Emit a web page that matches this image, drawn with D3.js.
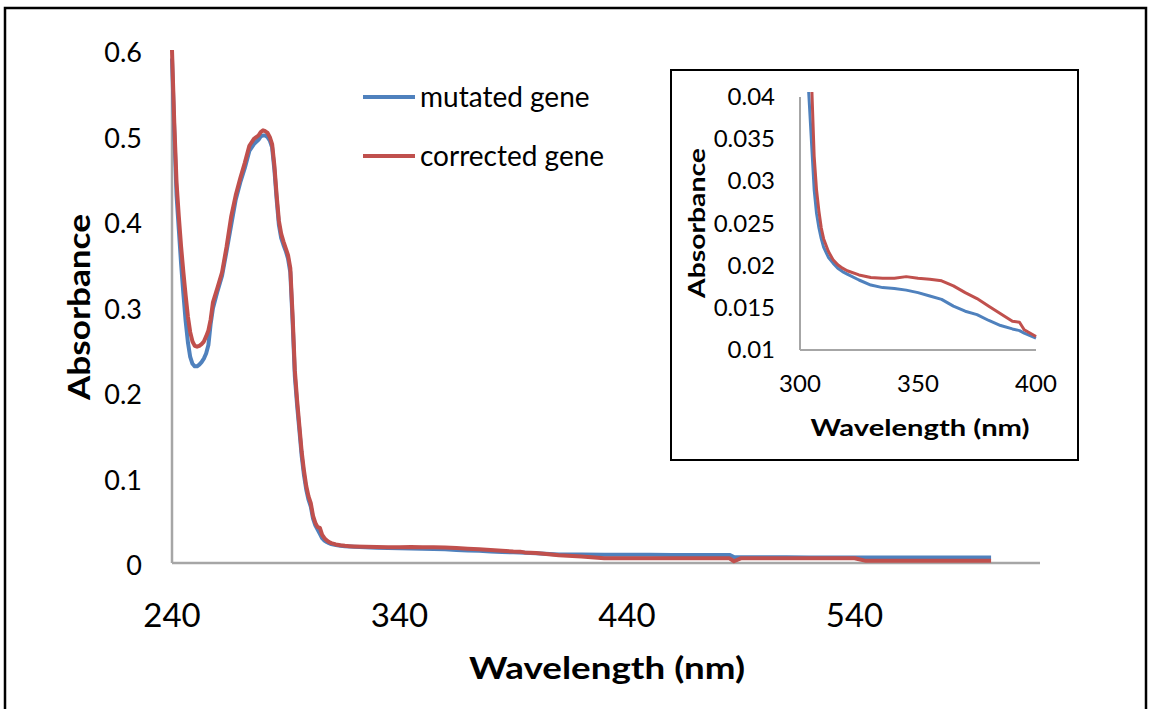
<!DOCTYPE html>
<html>

<head>
  <meta charset="utf8">
  <script src="https://d3js.org/d3.v7.min.js"></script>
  <style>
    body { margin: 0; background: white; }
    text { font-family: Lato, "Open Sans", sans-serif; fill: black; }
    .tick-label { font-size: 27px; }
    .inset-tick { font-size: 24px; }
    .title { font-weight: bold; text-anchor: middle; }
  </style>
</head>

<body>
  <svg id="chart" width="1150" height="709"></svg>
  <script>
    // wavelength (nm) shared by both series
    var wavelengths = [240, 241, 242, 243, 244, 245, 246, 247, 248, 249,
      250, 251, 252, 253, 254, 255, 256, 257, 258, 260,
      262, 264, 266, 268, 270, 272, 274, 276, 278, 279,
      280, 281, 282, 283, 284, 285, 286, 287, 288, 289,
      290, 291, 292, 293, 294, 295, 296, 297, 298, 299,
      300, 301, 302, 303, 304, 305, 306, 307, 308, 309,
      310, 312, 314, 316, 318, 320, 325, 330, 335, 340,
      345, 350, 355, 360, 365, 370, 375, 380, 385, 390,
      393, 395, 400, 410, 420, 430, 440, 450, 460, 470,
      480, 485, 487, 490, 500, 510, 520, 530, 540, 545,
      550, 560, 570, 580, 590, 600];

    var mutated = [0.590, 0.505, 0.430, 0.390, 0.350, 0.315, 0.283, 0.258, 0.241, 0.233,
      0.230, 0.230, 0.232, 0.235, 0.239, 0.245, 0.255, 0.280, 0.298, 0.318,
      0.336, 0.365, 0.395, 0.425, 0.445, 0.462, 0.482, 0.490, 0.495, 0.499,
      0.500, 0.500, 0.498, 0.494, 0.486, 0.460, 0.425, 0.395, 0.380, 0.372,
      0.365, 0.356, 0.340, 0.283, 0.218, 0.184, 0.155, 0.125, 0.103, 0.086,
      0.074, 0.066, 0.052, 0.044, 0.039, 0.034, 0.029, 0.0262, 0.0245, 0.0232,
      0.0222, 0.0210, 0.0203, 0.0197, 0.0193, 0.0190, 0.0183, 0.0177, 0.0174, 0.0173,
      0.0171, 0.0168, 0.0164, 0.0160, 0.0152, 0.0146, 0.0142, 0.0135, 0.0129, 0.0125,
      0.0123, 0.0120, 0.0114, 0.0100, 0.0098, 0.0097, 0.0096, 0.0096, 0.0095, 0.0095,
      0.0095, 0.0095, 0.0070, 0.0068, 0.0066, 0.0066, 0.0065, 0.0065, 0.0065, 0.0065,
      0.0065, 0.0065, 0.0065, 0.0065, 0.0065, 0.0065];

    var corrected = [0.600, 0.515, 0.445, 0.405, 0.370, 0.340, 0.313, 0.288, 0.270, 0.259,
      0.254, 0.253, 0.254, 0.256, 0.259, 0.265, 0.272, 0.285, 0.305, 0.322,
      0.340, 0.370, 0.405, 0.430, 0.450, 0.468, 0.488, 0.496, 0.500, 0.504,
      0.506, 0.505, 0.503, 0.498, 0.490, 0.465, 0.430, 0.400, 0.385, 0.376,
      0.368, 0.360, 0.345, 0.290, 0.225, 0.190, 0.160, 0.130, 0.108, 0.090,
      0.078, 0.070, 0.055, 0.047, 0.042, 0.041, 0.033, 0.029, 0.0265, 0.0245,
      0.0232, 0.0217, 0.0207, 0.0201, 0.0197, 0.0194, 0.0189, 0.0186, 0.0185, 0.0185,
      0.0187, 0.0185, 0.0184, 0.0182, 0.0176, 0.0168, 0.0161, 0.0152, 0.0143, 0.0134,
      0.0133, 0.0124, 0.0116, 0.0090, 0.0075, 0.0056, 0.0055, 0.0055, 0.0055, 0.0055,
      0.0055, 0.0055, 0.0020, 0.0055, 0.0055, 0.0055, 0.0055, 0.0055, 0.0055, 0.0025,
      0.0025, 0.0025, 0.0025, 0.0025, 0.0025, 0.0025];

    var seriesNames = ['mutated gene', 'corrected gene'];
    var xTicks = [240, 340, 440, 540];
    var yTicks = [0, 0.1, 0.2, 0.3, 0.4, 0.5, 0.6];
    var insetXTicks = [300, 350, 400];
    var insetYTicks = [0.01, 0.015, 0.02, 0.025, 0.03, 0.035, 0.04];

    var colors = ['#4f81bd', '#c0504d'];
    var axisColor = '#a6a6a6';

    var series = [mutated, corrected].map(function (vals, i) {
      return {
        name: seriesNames[i],
        values: vals.map(function (v, j) { return { x: wavelengths[j], y: v }; })
      };
    });

    var chart = d3.select('#chart');

    // outer frame
    chart.append('rect')
      .attr('x', 5).attr('y', 8)
      .attr('width', 1141).attr('height', 720)
      .attr('fill', 'white')
      .attr('stroke', 'black')
      .attr('stroke-width', 2.5);

    // ---- main chart ----
    var x = d3.scaleLinear().domain([240, 621.5]).range([172, 1040]);
    var y = d3.scaleLinear().domain([0, 0.6]).range([563, 50]);

    chart.append('line')
      .attr('x1', x.range()[0]).attr('x2', x.range()[1])
      .attr('y1', y(0)).attr('y2', y(0))
      .attr('stroke', axisColor).attr('stroke-width', 2.5);
    chart.append('line')
      .attr('x1', x(240)).attr('x2', x(240))
      .attr('y1', y(0.6)).attr('y2', y(0))
      .attr('stroke', axisColor).attr('stroke-width', 2.5);

    chart.selectAll('.xlab')
      .data(xTicks)
      .enter()
      .append('text')
      .attr('x', (d) => x(d))
      .attr('y', 627)
      .attr('font-size', 33)
      .attr('text-anchor', 'middle')
      .text((d) => d);

    chart.selectAll('.ylab')
      .data(yTicks)
      .enter()
      .append('text')
      .attr('class', 'tick-label')
      .attr('x', 142)
      .attr('y', (d) => y(d) + 12)
      .attr('text-anchor', 'end')
      .text((d) => d3.format('~g')(d));

    var line = d3.line()
      .x((d) => x(d.x))
      .y((d) => y(d.y));

    chart.selectAll('.main-line')
      .data(series)
      .enter()
      .append('path')
      .attr('fill', 'none')
      .attr('stroke', (d, i) => colors[i])
      .attr('stroke-width', 4)
      .attr('stroke-linejoin', 'round')
      .attr('d', (d) => line(d.values));

    chart.append('text')
      .attr('class', 'title')
      .attr('transform', 'translate(90,307) rotate(-90)')
      .attr('font-size', 30)
      .attr('textLength', 186)
      .attr('lengthAdjust', 'spacingAndGlyphs')
      .text('Absorbance');

    chart.append('text')
      .attr('class', 'title')
      .attr('x', 607).attr('y', 679)
      .attr('font-size', 30)
      .attr('textLength', 276)
      .attr('lengthAdjust', 'spacingAndGlyphs')
      .text('Wavelength (nm)');

    // legend
    var legend = chart.selectAll('.legend')
      .data(seriesNames)
      .enter()
      .append('g')
      .attr('transform', (d, i) => 'translate(363,' + (97 + i * 59) + ')');
    legend.append('line')
      .attr('x1', 0).attr('x2', 52)
      .attr('stroke', (d, i) => colors[i])
      .attr('stroke-width', 4);
    legend.append('text')
      .attr('x', 57).attr('y', 10)
      .attr('font-size', 28)
      .text((d) => d);

    // ---- inset ----
    chart.append('rect')
      .attr('x', 671).attr('y', 70)
      .attr('width', 407).attr('height', 390)
      .attr('fill', 'white')
      .attr('stroke', 'black')
      .attr('stroke-width', 2);

    var ix = d3.scaleLinear().domain([300, 400]).range([800, 1036]);
    var iy = d3.scaleLinear().domain([0.01, 0.04]).range([350, 97]);

    chart.append('clipPath')
      .attr('id', 'inset-clip')
      .append('rect')
      .attr('x', 800).attr('y', 92)
      .attr('width', 238).attr('height', 260);

    chart.append('line')
      .attr('x1', 800).attr('x2', 1036)
      .attr('y1', iy(0.01)).attr('y2', iy(0.01))
      .attr('stroke', axisColor).attr('stroke-width', 2);
    chart.append('line')
      .attr('x1', 800).attr('x2', 800)
      .attr('y1', iy(0.04)).attr('y2', iy(0.01))
      .attr('stroke', axisColor).attr('stroke-width', 2);

    chart.selectAll('.ixlab')
      .data(insetXTicks)
      .enter()
      .append('text')
      .attr('class', 'inset-tick')
      .attr('x', (d) => ix(d))
      .attr('y', 392)
      .attr('text-anchor', 'middle')
      .text((d) => d);

    chart.selectAll('.iylab')
      .data(insetYTicks)
      .enter()
      .append('text')
      .attr('class', 'inset-tick')
      .attr('x', 775)
      .attr('y', (d) => iy(d) + 8)
      .attr('text-anchor', 'end')
      .text((d) => d3.format('~g')(d));

    var iline = d3.line()
      .x((d) => ix(d.x))
      .y((d) => iy(d.y));

    chart.append('g')
      .attr('clip-path', 'url(#inset-clip)')
      .selectAll('path')
      .data(series)
      .enter()
      .append('path')
      .attr('fill', 'none')
      .attr('stroke', (d, i) => colors[i])
      .attr('stroke-width', 3)
      .attr('stroke-linejoin', 'round')
      .attr('d', (d) => iline(d.values.filter((p) => p.x >= 300 && p.x <= 400)));

    chart.append('text')
      .attr('class', 'title')
      .attr('transform', 'translate(705,223) rotate(-90)')
      .attr('font-size', 22)
      .attr('textLength', 150)
      .attr('lengthAdjust', 'spacingAndGlyphs')
      .text('Absorbance');

    chart.append('text')
      .attr('class', 'title')
      .attr('x', 920).attr('y', 436)
      .attr('font-size', 22)
      .attr('textLength', 219)
      .attr('lengthAdjust', 'spacingAndGlyphs')
      .text('Wavelength (nm)');
  </script>
</body>

</html>
